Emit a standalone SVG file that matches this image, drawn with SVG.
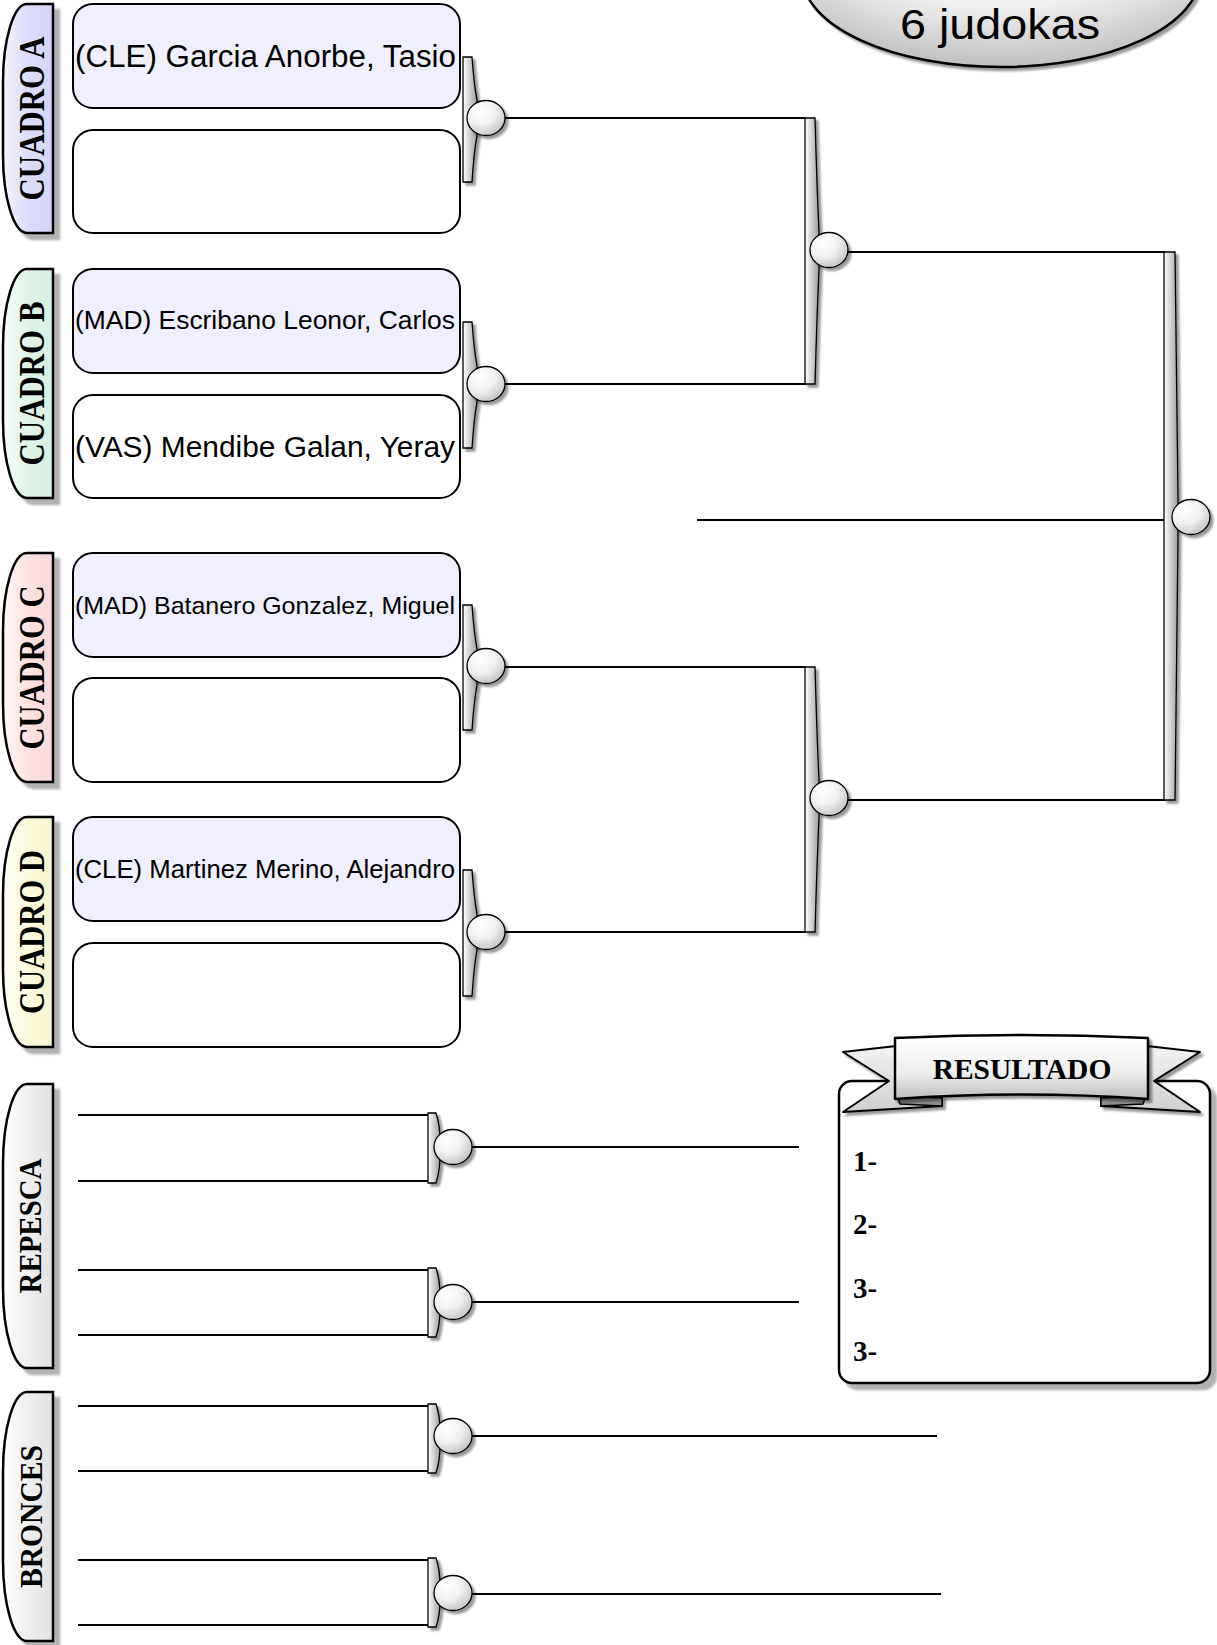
<svg xmlns="http://www.w3.org/2000/svg" width="1217" height="1645" viewBox="0 0 1217 1645">
<style>
.box{stroke:#000;stroke-width:2;fill:#fff}
.top{fill:#efeffd}
.ln{stroke:#000;stroke-width:2.2;fill:none}
.bar{fill:url(#gBar);stroke:#000;stroke-width:1.3;filter:url(#shB)}
.cir{fill:url(#gCir);stroke:#000;stroke-width:1.3;filter:url(#shB)}
.lab{stroke:#000;stroke-width:2.5;filter:url(#shL)}
.nm{font-family:"Liberation Sans",Arial,sans-serif;fill:#000}
.lt{font-family:"Liberation Serif","Times New Roman",serif;font-weight:bold;fill:#000;text-anchor:middle}
.rn{font-family:"Liberation Serif","Times New Roman",serif;font-weight:bold;fill:#000;font-size:29px}
</style>
<defs>
<linearGradient id="gBar" x1="0" y1="0" x2="1" y2="0">
<stop offset="0" stop-color="#ffffff"/><stop offset="0.3" stop-color="#e2e2e2"/><stop offset="1" stop-color="#9f9f9f"/>
</linearGradient>
<radialGradient id="gCir" cx="0.35" cy="0.3" r="0.8">
<stop offset="0" stop-color="#ffffff"/><stop offset="0.5" stop-color="#f0f0f0"/><stop offset="1" stop-color="#bdbdbd"/>
</radialGradient>
<radialGradient id="gHead" cx="0.5" cy="0.3" r="0.7">
<stop offset="0" stop-color="#ffffff"/><stop offset="0.55" stop-color="#efefef"/><stop offset="1" stop-color="#bfbfbf"/>
</radialGradient>
<linearGradient id="gRib" x1="0" y1="0" x2="0" y2="1">
<stop offset="0" stop-color="#ffffff"/><stop offset="0.6" stop-color="#eeeeee"/><stop offset="1" stop-color="#bdbdbd"/>
</linearGradient>
<linearGradient id="gTail" x1="0" y1="0" x2="0" y2="1">
<stop offset="0" stop-color="#f4f4f4"/><stop offset="1" stop-color="#cfcfcf"/>
</linearGradient>
<linearGradient id="gA" x1="0" y1="0" x2="1" y2="0">
<stop offset="0" stop-color="#f4f4fe"/><stop offset="0.5" stop-color="#dcdcf9"/><stop offset="1" stop-color="#d4d4f6"/>
</linearGradient>
<linearGradient id="gB" x1="0" y1="0" x2="1" y2="0">
<stop offset="0" stop-color="#f6fcf8"/><stop offset="0.5" stop-color="#e0f4e8"/><stop offset="1" stop-color="#d6efe0"/>
</linearGradient>
<linearGradient id="gC" x1="0" y1="0" x2="1" y2="0">
<stop offset="0" stop-color="#fff6f6"/><stop offset="0.5" stop-color="#fde2e2"/><stop offset="1" stop-color="#f9d8d8"/>
</linearGradient>
<linearGradient id="gD" x1="0" y1="0" x2="1" y2="0">
<stop offset="0" stop-color="#fffff4"/><stop offset="0.5" stop-color="#fcfadc"/><stop offset="1" stop-color="#f7f4cc"/>
</linearGradient>
<linearGradient id="gG" x1="0" y1="0" x2="1" y2="0">
<stop offset="0" stop-color="#ffffff"/><stop offset="0.5" stop-color="#efefef"/><stop offset="1" stop-color="#e2e2e2"/>
</linearGradient>
<filter id="shL" x="-20%" y="-10%" width="150%" height="130%">
<feDropShadow dx="6" dy="6" stdDeviation="1.2" flood-color="#000" flood-opacity="0.3"/>
</filter>
<filter id="shB" x="-30%" y="-20%" width="170%" height="150%">
<feDropShadow dx="3" dy="3" stdDeviation="1" flood-color="#000" flood-opacity="0.4"/>
</filter>
</defs>
<rect width="1217" height="1645" fill="#fff"/>

<g id="header">
<ellipse cx="1001" cy="-25" rx="199" ry="92" fill="url(#gHead)" stroke="#000" stroke-width="2.5" filter="url(#shB)"/>
<text x="1000" y="39" font-family="'Liberation Sans',Arial,sans-serif" font-size="42" text-anchor="middle" textLength="200" lengthAdjust="spacingAndGlyphs">6 judokas</text>
</g>

<g id="connectors">
<line class="ln" x1="500" y1="118" x2="806" y2="118"/>
<line class="ln" x1="500" y1="384" x2="806" y2="384"/>
<line class="ln" x1="500" y1="667" x2="806" y2="667"/>
<line class="ln" x1="500" y1="932" x2="806" y2="932"/>
<line class="ln" x1="845" y1="252" x2="1166" y2="252"/>
<line class="ln" x1="845" y1="800" x2="1166" y2="800"/>
<line class="ln" x1="697" y1="520" x2="1165" y2="520"/>
<line class="ln" x1="78" y1="1115" x2="429" y2="1115"/>
<line class="ln" x1="78" y1="1181" x2="429" y2="1181"/>
<line class="ln" x1="78" y1="1270" x2="429" y2="1270"/>
<line class="ln" x1="78" y1="1335" x2="429" y2="1335"/>
<line class="ln" x1="468" y1="1147" x2="799" y2="1147"/>
<line class="ln" x1="468" y1="1302" x2="799" y2="1302"/>
<line class="ln" x1="78" y1="1406" x2="429" y2="1406"/>
<line class="ln" x1="78" y1="1471" x2="429" y2="1471"/>
<line class="ln" x1="78" y1="1560" x2="429" y2="1560"/>
<line class="ln" x1="78" y1="1625" x2="429" y2="1625"/>
<line class="ln" x1="468" y1="1436" x2="937" y2="1436" stroke-width="2.6"/>
<line class="ln" x1="468" y1="1594" x2="941" y2="1594"/>
</g>

<g id="cuadro-a">
<path class="lab" fill="url(#gA)" d="M53,4 H27 A24,78 0 0 0 3,82 V155 A24,78 0 0 0 27,233 H53 Z"/>
<text class="lt" font-size="35" textLength="164" lengthAdjust="spacingAndGlyphs" transform="translate(44,118.5) rotate(-90)">CUADRO A</text>
<rect class="box top" x="73" y="4" width="387" height="104" rx="20"/>
<rect class="box" x="73" y="130" width="387" height="103" rx="20"/>
<text class="nm" x="75" y="67" font-size="31" textLength="381" lengthAdjust="spacingAndGlyphs">(CLE) Garcia Anorbe, Tasio</text>
</g>

<g id="cuadro-b">
<path class="lab" fill="url(#gB)" d="M53,269 H27 A24,78 0 0 0 3,347 V420 A24,78 0 0 0 27,498 H53 Z"/>
<text class="lt" font-size="35" textLength="164" lengthAdjust="spacingAndGlyphs" transform="translate(44,383.5) rotate(-90)">CUADRO B</text>
<rect class="box top" x="73" y="269" width="387" height="104" rx="20"/>
<rect class="box" x="73" y="395" width="387" height="103" rx="20"/>
<text class="nm" x="75" y="329" font-size="26" textLength="380" lengthAdjust="spacingAndGlyphs">(MAD) Escribano Leonor, Carlos</text>
<text class="nm" x="75" y="457" font-size="29" textLength="380" lengthAdjust="spacingAndGlyphs">(VAS) Mendibe Galan, Yeray</text>
</g>

<g id="cuadro-c">
<path class="lab" fill="url(#gC)" d="M53,553 H27 A24,78 0 0 0 3,631 V704 A24,78 0 0 0 27,782 H53 Z"/>
<text class="lt" font-size="35" textLength="164" lengthAdjust="spacingAndGlyphs" transform="translate(44,667.5) rotate(-90)">CUADRO C</text>
<rect class="box top" x="73" y="553" width="387" height="104" rx="20"/>
<rect class="box" x="73" y="678" width="387" height="104" rx="20"/>
<text class="nm" x="75" y="614" font-size="24.8" textLength="380" lengthAdjust="spacingAndGlyphs">(MAD) Batanero Gonzalez, Miguel</text>
</g>

<g id="cuadro-d">
<path class="lab" fill="url(#gD)" d="M53,817 H27 A24,78 0 0 0 3,895 V969 A24,78 0 0 0 27,1047 H53 Z"/>
<text class="lt" font-size="35" textLength="164" lengthAdjust="spacingAndGlyphs" transform="translate(44,932) rotate(-90)">CUADRO D</text>
<rect class="box top" x="73" y="817" width="387" height="104" rx="20"/>
<rect class="box" x="73" y="943" width="387" height="104" rx="20"/>
<text class="nm" x="75" y="878" font-size="25.5" textLength="380" lengthAdjust="spacingAndGlyphs">(CLE) Martinez Merino, Alejandro</text>
</g>

<g id="repesca">
<path class="lab" fill="url(#gG)" d="M53,1084 H27 A24,80 0 0 0 3,1164 V1288 A24,80 0 0 0 27,1368 H53 Z"/>
<text class="lt" font-size="32" textLength="135" lengthAdjust="spacingAndGlyphs" transform="translate(41,1226) rotate(-90)">REPESCA</text>
</g>

<g id="bronces">
<path class="lab" fill="url(#gG)" d="M53,1392 H27 A24,80 0 0 0 3,1472 V1561 A24,80 0 0 0 27,1641 H53 Z"/>
<text class="lt" font-size="32" textLength="143" lengthAdjust="spacingAndGlyphs" transform="translate(42,1516.5) rotate(-90)">BRONCES</text>
</g>

<g id="match-ab">
<path class="bar" d="M463,57 H472 Q474,85 477,100 V136 Q474,151 472,182 H463 Z"/>
<ellipse class="cir" cx="486" cy="118" rx="19" ry="17.5"/>
</g>
<g id="match-b">
<path class="bar" d="M463,322 H472 Q474,350 477,366 V402 Q474,418 472,448 H463 Z"/>
<ellipse class="cir" cx="486" cy="384" rx="19" ry="17.5"/>
</g>
<g id="match-c">
<path class="bar" d="M463,605 H472 Q474,633 477,649 V685 Q474,701 472,730 H463 Z"/>
<ellipse class="cir" cx="486" cy="666" rx="19" ry="17.5"/>
</g>
<g id="match-d">
<path class="bar" d="M463,870 H472 Q474,898 477,914 V950 Q474,966 472,996 H463 Z"/>
<ellipse class="cir" cx="486" cy="932" rx="19" ry="17.5"/>
</g>
<g id="semi-1">
<path class="bar" d="M805,118 H815 Q817,190 819,232 V270 Q817,312 815,384 H805 Z"/>
<ellipse class="cir" cx="829" cy="250" rx="19" ry="17.5"/>
</g>
<g id="semi-2">
<path class="bar" d="M805,667 H815 Q817,740 819,780 V818 Q817,860 815,932 H805 Z"/>
<ellipse class="cir" cx="829" cy="798" rx="19" ry="17.5"/>
</g>
<g id="final">
<path class="bar" d="M1164,252 H1175 Q1177,400 1178,498 V536 Q1177,640 1175,800 H1164 Z"/>
<ellipse class="cir" cx="1191" cy="517" rx="19" ry="17.5"/>
</g>
<g id="repesca-1">
<path class="bar" d="M428,1113 H436 Q440,1125 440,1140 V1156 Q440,1170 436,1183 H428 Z"/>
<ellipse class="cir" cx="453" cy="1147" rx="19" ry="17.5"/>
</g>
<g id="repesca-2">
<path class="bar" d="M428,1268 H436 Q440,1280 440,1295 V1310 Q440,1324 436,1337 H428 Z"/>
<ellipse class="cir" cx="453" cy="1302" rx="19" ry="17.5"/>
</g>
<g id="bronce-1">
<path class="bar" d="M428,1404 H436 Q440,1416 440,1430 V1446 Q440,1460 436,1473 H428 Z"/>
<ellipse class="cir" cx="453" cy="1436" rx="19" ry="17.5"/>
</g>
<g id="bronce-2">
<path class="bar" d="M428,1558 H436 Q440,1570 440,1585 V1601 Q440,1615 436,1627 H428 Z"/>
<ellipse class="cir" cx="453" cy="1593" rx="19" ry="17.5"/>
</g>

<g id="resultado">
<rect x="839" y="1081" width="371" height="302" rx="13" fill="#fff" stroke="#000" stroke-width="2.5" filter="url(#shL)"/>
<path d="M843,1052 L905,1045 L905,1092 L942,1097 L942,1106 L843,1112 L889,1081 Z" fill="url(#gTail)" stroke="#000" stroke-width="2" stroke-linejoin="round" filter="url(#shB)"/>
<path d="M1200,1052 L1138,1045 L1138,1092 L1101,1097 L1101,1106 L1200,1112 L1154,1081 Z" fill="url(#gTail)" stroke="#000" stroke-width="2" stroke-linejoin="round" filter="url(#shB)"/>
<path d="M897,1096 L942,1098 L942,1106 L900,1104 Z" fill="#8c8c8c" stroke="#000" stroke-width="1.5"/>
<path d="M1146,1096 L1101,1098 L1101,1106 L1143,1104 Z" fill="#8c8c8c" stroke="#000" stroke-width="1.5"/>
<path d="M895,1038 Q1021,1032 1148,1038 L1148,1099 Q1021,1090 895,1099 Z" fill="url(#gRib)" stroke="#000" stroke-width="2.5" stroke-linejoin="round" filter="url(#shB)"/>
<text class="lt" x="1022" y="1079" font-size="29.5">RESULTADO</text>
<text class="rn" x="853" y="1171">1-</text>
<text class="rn" x="853" y="1234">2-</text>
<text class="rn" x="853" y="1298">3-</text>
<text class="rn" x="853" y="1361">3-</text>
</g>
</svg>
